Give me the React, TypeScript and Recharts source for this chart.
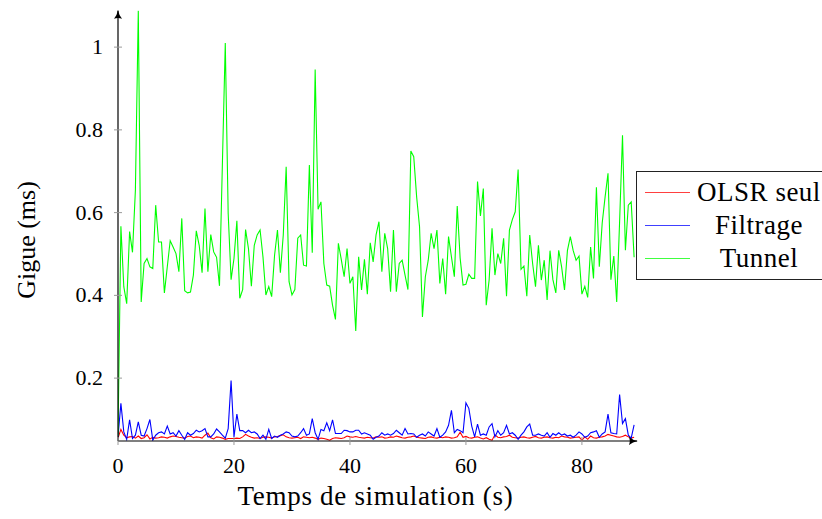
import React from 'react';
import { LineChart, Line, XAxis, YAxis, Legend } from 'recharts';

const STEP = 0.5;

const tunnel = [
  0.06, 0.567, 0.421, 0.38, 0.554, 0.504, 0.654, 1.089, 0.384, 0.477,
  0.489, 0.469, 0.465, 0.618, 0.529, 0.529, 0.406, 0.469, 0.532, 0.517,
  0.501, 0.457, 0.586, 0.411, 0.406, 0.408, 0.449, 0.556, 0.521, 0.455,
  0.61, 0.457, 0.547, 0.505, 0.492, 0.423, 0.717, 1.01, 0.598, 0.438,
  0.489, 0.58, 0.393, 0.414, 0.559, 0.513, 0.422, 0.521, 0.546, 0.558,
  0.493, 0.401, 0.421, 0.397, 0.497, 0.558, 0.455, 0.546, 0.711, 0.433,
  0.401, 0.414, 0.538, 0.546, 0.473, 0.471, 0.715, 0.503, 0.946, 0.608,
  0.626, 0.477, 0.425, 0.422, 0.376, 0.342, 0.526, 0.487, 0.445, 0.513,
  0.429, 0.445, 0.314, 0.493, 0.413, 0.487, 0.403, 0.527, 0.481, 0.546,
  0.578, 0.457, 0.55, 0.513, 0.409, 0.558, 0.409, 0.477, 0.485, 0.449,
  0.414, 0.749, 0.735, 0.638, 0.566, 0.348, 0.445, 0.485, 0.55, 0.513,
  0.558, 0.429, 0.489, 0.403, 0.542, 0.493, 0.445, 0.616, 0.49, 0.425,
  0.427, 0.451, 0.441, 0.441, 0.675, 0.592, 0.658, 0.376, 0.437, 0.562,
  0.449, 0.501, 0.477, 0.538, 0.398, 0.558, 0.583, 0.602, 0.704, 0.463,
  0.471, 0.398, 0.546, 0.477, 0.421, 0.521, 0.437, 0.485, 0.389, 0.508,
  0.438, 0.406, 0.509, 0.469, 0.413, 0.508, 0.542, 0.508, 0.485, 0.495,
  0.403, 0.422, 0.395, 0.517, 0.441, 0.661, 0.469, 0.575, 0.638, 0.695,
  0.438, 0.495, 0.384, 0.578, 0.787, 0.509, 0.618, 0.626, 0.492,
];

const filtrage = [
  0.058, 0.139, 0.07, 0.052, 0.099, 0.054, 0.062, 0.094, 0.062, 0.06,
  0.078, 0.1, 0.05, 0.062, 0.068, 0.07, 0.065, 0.084, 0.065, 0.068,
  0.06, 0.073, 0.062, 0.052, 0.068, 0.062, 0.066, 0.074, 0.07, 0.073,
  0.078, 0.058, 0.058, 0.065, 0.077, 0.07, 0.062, 0.055, 0.078, 0.194,
  0.058, 0.113, 0.073, 0.073, 0.068, 0.074, 0.068, 0.07, 0.065, 0.054,
  0.062, 0.052, 0.076, 0.054, 0.06, 0.057, 0.062, 0.065, 0.07, 0.068,
  0.06, 0.058, 0.06, 0.068, 0.078, 0.062, 0.065, 0.102, 0.068, 0.052,
  0.076, 0.073, 0.092, 0.073, 0.099, 0.066, 0.066, 0.066, 0.074, 0.073,
  0.07, 0.07, 0.074, 0.074, 0.065, 0.068, 0.065, 0.062, 0.052, 0.057,
  0.06, 0.068, 0.062, 0.065, 0.062, 0.066, 0.074, 0.068, 0.062, 0.078,
  0.065, 0.066, 0.065, 0.057, 0.062, 0.065, 0.06, 0.07, 0.065, 0.06,
  0.078, 0.057, 0.062, 0.07, 0.086, 0.122, 0.068, 0.076, 0.073, 0.068,
  0.14, 0.127, 0.084, 0.058, 0.089, 0.062, 0.065, 0.062, 0.082, 0.09,
  0.058, 0.073, 0.062, 0.068, 0.086, 0.065, 0.068, 0.062, 0.052, 0.062,
  0.07, 0.082, 0.089, 0.062, 0.062, 0.065, 0.062, 0.06, 0.068, 0.057,
  0.066, 0.062, 0.068, 0.062, 0.065, 0.06, 0.062, 0.057, 0.062, 0.07,
  0.065, 0.057, 0.06, 0.068, 0.07, 0.073, 0.057, 0.065, 0.07, 0.113,
  0.068, 0.066, 0.065, 0.16, 0.09, 0.102, 0.062, 0.055, 0.087,
];

const olsrSeul = [
  0.055, 0.076, 0.062, 0.056, 0.058, 0.059, 0.055, 0.06, 0.054, 0.056,
  0.063, 0.053, 0.057, 0.055, 0.056, 0.058, 0.057, 0.055, 0.058, 0.06,
  0.059, 0.057, 0.056, 0.055, 0.059, 0.06, 0.056, 0.058, 0.057, 0.055,
  0.062, 0.067, 0.056, 0.053, 0.058, 0.057, 0.055, 0.052, 0.054, 0.054,
  0.054, 0.055, 0.054, 0.058, 0.064, 0.06, 0.057, 0.055, 0.056, 0.054,
  0.057, 0.058, 0.057, 0.055, 0.058, 0.059, 0.061, 0.063, 0.058, 0.056,
  0.055, 0.056, 0.057, 0.054, 0.058, 0.057, 0.056, 0.057, 0.055, 0.052,
  0.055, 0.054, 0.052, 0.05, 0.054, 0.056, 0.055, 0.054, 0.056, 0.06,
  0.058, 0.057, 0.059, 0.057, 0.056, 0.055, 0.057, 0.056, 0.055, 0.058,
  0.057, 0.058, 0.055, 0.056, 0.058, 0.057, 0.06, 0.058, 0.056, 0.055,
  0.057, 0.058, 0.06, 0.057, 0.056, 0.055, 0.054, 0.057, 0.058, 0.056,
  0.055, 0.057, 0.056, 0.058, 0.057, 0.055, 0.056, 0.058, 0.069, 0.057,
  0.059, 0.056, 0.055, 0.057, 0.058, 0.055, 0.053, 0.056, 0.052, 0.05,
  0.063, 0.057, 0.056, 0.058, 0.059, 0.062, 0.057, 0.056, 0.055, 0.057,
  0.058, 0.056, 0.055, 0.057, 0.059, 0.056, 0.055, 0.057, 0.058, 0.056,
  0.055, 0.057, 0.056, 0.06, 0.058, 0.057, 0.055, 0.056, 0.057, 0.058,
  0.05, 0.058, 0.052, 0.06, 0.056, 0.055, 0.057, 0.058, 0.06, 0.064,
  0.062, 0.06, 0.058, 0.057, 0.059, 0.062, 0.058, 0.055, 0.057,
];

const seriesNames = ['OLSR seul', 'Filtrage', 'Tunnel'];
const seriesColors = ['#ff0000', '#0000ff', '#00ff00'];
const xTicks = [0, 20, 40, 60, 80];
const yTicks = [0.2, 0.4, 0.6, 0.8, 1];
const xDomain = [0, 89.5];
const yDomain = [0.048, 1.088];

const FONT = '"Liberation Serif", "Times New Roman", serif';

const data = tunnel.map((v, i) => ({
  t: i * STEP,
  olsr: olsrSeul[i],
  filtrage: filtrage[i],
  tunnel: v,
}));

const XTick = (props: any) => {
  const { x, y, payload } = props;
  return (
    <g>
      <line x1={x} x2={x} y1={y - 4} y2={y + 4} stroke="#9a9a9a" strokeWidth={1} />
      <text x={x} y={y + 32} textAnchor="middle" fontFamily={FONT} fontSize={22} fill="#000">
        {payload.value}
      </text>
    </g>
  );
};

const YTick = (props: any) => {
  const { x, y, payload } = props;
  return (
    <g>
      <line x1={x - 4} x2={x + 4} y1={y} y2={y} stroke="#9a9a9a" strokeWidth={1} />
      <text x={x - 15} y={y + 7} textAnchor="end" fontFamily={FONT} fontSize={22} fill="#000">
        {payload.value}
      </text>
    </g>
  );
};

const LegendBox = (props: any) => {
  const raw = props.payload || [];
  const payload = [...raw].sort(
    (a: any, b: any) => seriesNames.indexOf(a.value) - seriesNames.indexOf(b.value)
  );
  return (
    <div
      style={{
        position: 'relative',
        width: 192,
        height: 109,
        border: '1px solid #222',
        boxSizing: 'border-box',
        background: '#fff',
        fontFamily: FONT,
        fontSize: 27,
        letterSpacing: 0.5,
        color: '#000',
      }}
    >
      {payload.map((p: any, i: number) => (
        <div key={i} style={{ position: 'absolute', left: 0, top: 4 + 33 * i, height: 33, width: '100%' }}>
          <div
            style={{
              position: 'absolute',
              left: 8,
              top: 16,
              width: 45,
              height: 0,
              borderTop: `1px solid ${p.color}`,
              opacity: 0.75,
            }}
          />
          <div
            style={{
              position: 'absolute',
              left: 58,
              top: 0,
              width: 128,
              textAlign: 'center',
              lineHeight: '33px',
              whiteSpace: 'nowrap',
            }}
          >
            {p.value}
          </div>
        </div>
      ))}
    </div>
  );
};

export default function App() {
  return (
    <div style={{ position: 'absolute', left: 0, top: 0, width: 822, height: 519, overflow: 'hidden', background: '#fff' }}>
      <svg width={0} height={0} style={{ position: 'absolute' }}>
        <defs>
          <marker
            id="axisArrow"
            viewBox="0 0 10 10"
            refX={9}
            refY={5}
            markerWidth={9}
            markerHeight={9}
            markerUnits="userSpaceOnUse"
            orient="auto-start-reverse"
          >
            <path d="M0,0.5 Q4,4 10,5 Q4,6 0,9.5 Q2,5 0,0.5 Z" fill="#000" />
          </marker>
        </defs>
      </svg>
      <LineChart
        width={822}
        height={519}
        data={data}
        margin={{ top: 10.7, right: 185, bottom: 0, left: 0 }}
      >
        <XAxis
          type="number"
          dataKey="t"
          domain={xDomain}
          ticks={xTicks}
          allowDataOverflow
          height={78}
          tickSize={0}
          tickMargin={0}
          tickLine={false}
          tick={<XTick />}
          axisLine={{ stroke: '#000', strokeWidth: 1.2, markerEnd: 'url(#axisArrow)' } as any}
          label={{
            content: (p: any) => {
              const vb = p.viewBox || {};
              return (
                <text
                  x={vb.x + vb.width / 2 - 2}
                  y={vb.y + 64}
                  textAnchor="middle"
                  fontFamily={FONT}
                  fontSize={27}
                  letterSpacing={0.7}
                  fill="#000"
                >
                  Temps de simulation (s)
                </text>
              );
            },
          } as any}
        />
        <YAxis
          type="number"
          domain={yDomain}
          ticks={yTicks}
          allowDataOverflow
          width={118}
          tickSize={0}
          tickMargin={0}
          tickLine={false}
          tick={<YTick />}
          axisLine={{ stroke: '#000', strokeWidth: 1.2, markerStart: 'url(#axisArrow)' } as any}
          label={{
            content: () => {
              const cy = 240;
              return (
                <text
                  x={35}
                  y={cy}
                  transform={`rotate(-90, 35, ${cy})`}
                  textAnchor="middle"
                  fontFamily={FONT}
                  fontSize={26}
                  fill="#000"
                >
                  Gigue (ms)
                </text>
              );
            },
          } as any}
        />
        <Legend
          layout="horizontal"
          verticalAlign="middle"
          align="center"
          wrapperStyle={{ left: 636, top: 171, width: 192, height: 109 }}
          content={<LegendBox />}
        />
        <Line
          type="linear"
          dataKey="olsr"
          name={seriesNames[0]}
          stroke={seriesColors[0]}
          strokeWidth={1.1}
          dot={false}
          isAnimationActive={false}
        />
        <Line
          type="linear"
          dataKey="filtrage"
          name={seriesNames[1]}
          stroke={seriesColors[1]}
          strokeWidth={1.1}
          dot={false}
          isAnimationActive={false}
        />
        <Line
          type="linear"
          dataKey="tunnel"
          name={seriesNames[2]}
          stroke={seriesColors[2]}
          strokeWidth={1.1}
          dot={false}
          isAnimationActive={false}
        />
      </LineChart>
    </div>
  );
}
